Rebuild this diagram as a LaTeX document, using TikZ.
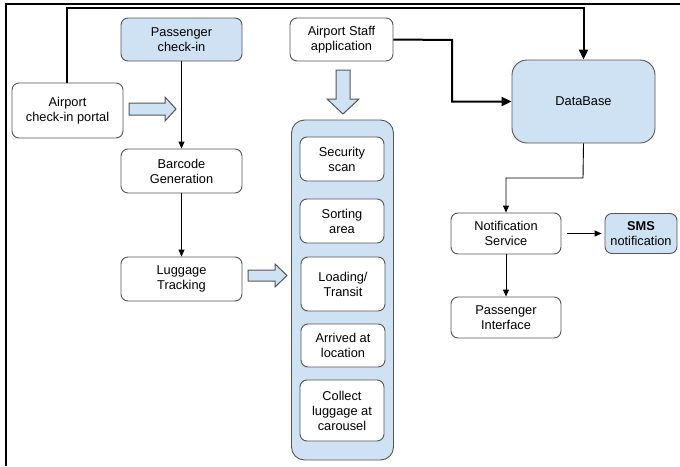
\documentclass[tikz,border=0pt]{standalone}
\usepackage{fontspec}
\setmainfont{Liberation Sans}
\usetikzlibrary{arrows.meta}
\definecolor{lb}{HTML}{CFE2F3}
\definecolor{bd}{HTML}{555555}
\tikzset{
  box/.style={draw=bd, line width=0.9pt, rounded corners=7pt, fill=white, align=center,
    font=\fontsize{12.8}{15}\selectfont, inner sep=0pt},
  bluebox/.style={box, fill=lb},
  thin/.style={line width=0.9pt, -{Triangle[length=7pt,width=6pt]}},
  thick/.style={line width=2pt, -{Triangle[length=10pt,width=9pt]}},
  blockarrow/.style={draw=bd, line width=1pt, fill=lb, line join=miter},
}
\begin{document}
\begin{tikzpicture}[x=1pt,y=-1pt]
\useasboundingbox (0,0) rectangle (680,466);
% frame
\draw[line width=2pt] (6,466) -- (6,4) -- (680,4);

% container
\node[bluebox, rounded corners=13pt, minimum width=102pt, minimum height=340pt] (cont) at (342.5,290) {};

% nodes
\node[bluebox, minimum width=121pt, minimum height=43pt] (pci) at (181.5,39.5) {Passenger\\check-in};
\node[box, minimum width=103pt, minimum height=43pt] (staff) at (341.5,39.5) {Airport Staff\\application};
\node[box, minimum width=111pt, minimum height=55pt] (portal) at (67.5,110.5) {Airport\\check-in portal};
\node[box, minimum width=121pt, minimum height=44pt] (barcode) at (181.5,171) {Barcode\\Generation};
\node[box, minimum width=121pt, minimum height=44pt] (lug) at (181.5,279) {Luggage\\Tracking};

\node[box, minimum width=84pt, minimum height=44pt] (sec) at (342,159) {Security\\scan};
\node[box, minimum width=84pt, minimum height=44pt] (sort) at (342,221) {Sorting\\area};
\node[box, minimum width=84pt, minimum height=54pt] (load) at (343,284) {Loading/\\Transit};
\node[box, minimum width=84pt, minimum height=43pt] (arr) at (343,345.5) {Arrived at\\location};
\node[box, minimum width=84pt, minimum height=61pt] (coll) at (342,410.5) {Collect\\luggage at\\carousel};

\node[bluebox, rounded corners=15pt, minimum width=143pt, minimum height=83pt] (db) at (583.5,101.5) {DataBase};
\node[box, minimum width=110pt, minimum height=41pt] (notif) at (506,233.5) {Notification\\Service};
\node[bluebox, minimum width=72pt, minimum height=40pt] (sms) at (641,233.5) {\textbf{SMS}\\notification};
\node[box, minimum width=110pt, minimum height=41pt] (pint) at (506,317.5) {Passenger\\Interface};

% block arrows
\draw[blockarrow] (129,103) -- (165,103) -- (165,97) -- (176,109) -- (165,121) -- (165,115) -- (129,115) -- cycle;
\draw[blockarrow] (248,270) -- (275,270) -- (275,264) -- (287,275.5) -- (275,287) -- (275,281) -- (248,281) -- cycle;
\draw[blockarrow] (336,70) -- (336,99) -- (327,99) -- (343,114) -- (359,99) -- (350,99) -- (350,70) -- cycle;

% connectors
\draw[thin] (pci) -- (barcode);
\draw[thin] (barcode) -- (lug);
\draw[thick] (staff.east) -- (452,40) |- (db.west);
\draw[thick] (portal.north -| 67,0) -- (67,8) -| (db.north);
\draw[thin] (db.south) -- (583,178) -| (notif.north);
\draw[thin] ([xshift=6pt]notif.east) -- ([xshift=-3pt]sms.west);
\draw[thin] (notif) -- (pint);
\end{tikzpicture}
\end{document}
